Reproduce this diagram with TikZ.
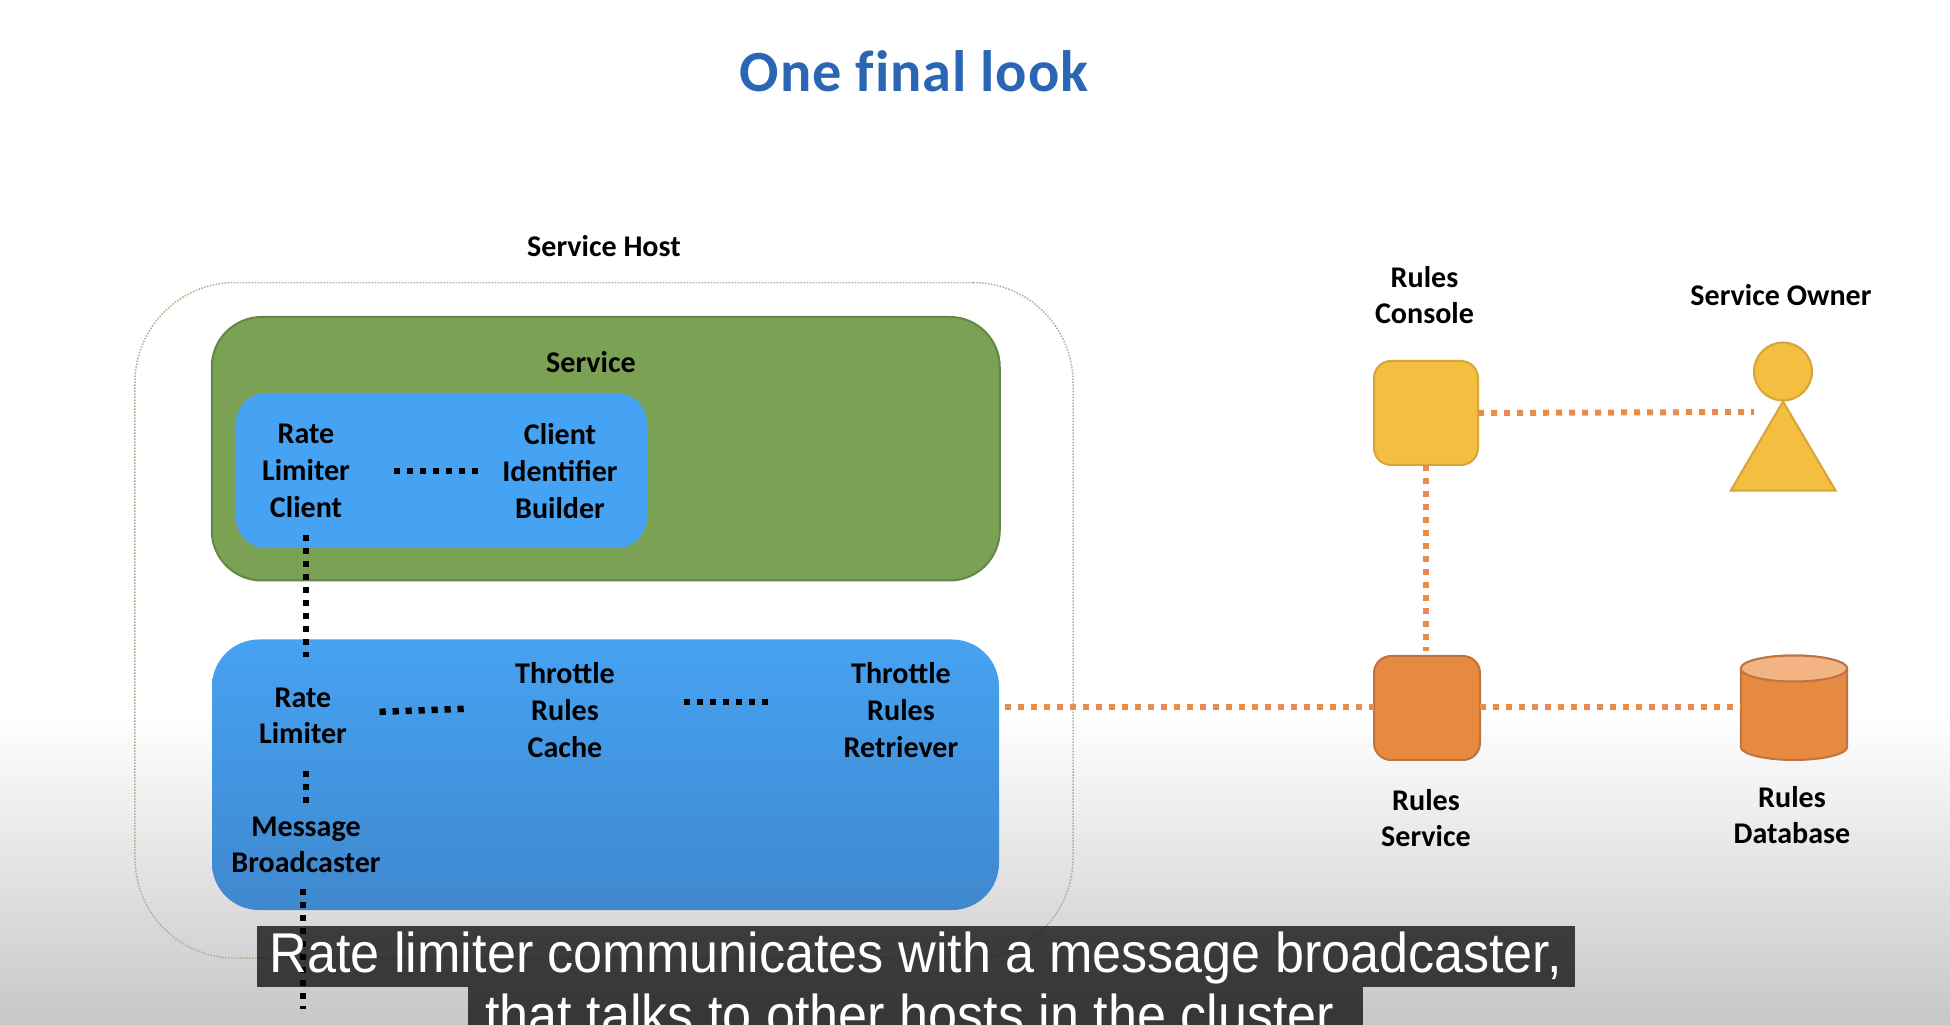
\documentclass[tikz,border=0pt]{standalone}
\usepackage{fontspec}
\setmainfont{Carlito}
\newfontfamily\captionFont[FakeStretch=0.93]{Liberation Sans}
\newfontfamily\titleFont[Ligatures=NoCommon,LetterSpace=1.5]{Carlito}

\definecolor{titleBlue}{RGB}{42,102,180}
\definecolor{hostLine}{RGB}{168,178,140}
\definecolor{serviceGreen}{RGB}{123,162,84}
\definecolor{serviceEdge}{RGB}{100,135,70}
\definecolor{boxBlue}{RGB}{70,162,242}
\definecolor{boxBlueMid}{RGB}{69,152,230}
\definecolor{boxBlueLow}{RGB}{63,136,206}
\definecolor{consoleYellow}{RGB}{244,190,65}
\definecolor{consoleEdge}{RGB}{214,165,55}
\definecolor{rulesOrange}{RGB}{230,138,66}
\definecolor{rulesEdge}{RGB}{190,115,65}
\definecolor{rulesTop}{RGB}{242,180,130}
\definecolor{linkOrange}{RGB}{229,141,76}

\tikzset{
	roundBox/.style={draw, rectangle, inner sep=0, outer sep=0},
	nameLabel/.style={inner sep=0, align=center, font=\fontsize{8.55}{10.44}\selectfont\bfseries},
	blackDots/.style={black, line width=0.65mm, dash pattern=on 0.62mm off 0.68mm},
	orangeDots/.style={linkOrange, line width=0.6mm, dash pattern=on 0.6mm off 0.7mm},
	captionBar/.style={fill=black, fill opacity=0.72, text opacity=1, text=white, inner sep=0, text height=0.44cm, text depth=0.11cm, font=\captionFont\fontsize{15.95}{18}\selectfont}
}

\begin{document}
\begin{tikzpicture}

	\useasboundingbox (0,0) rectangle (19.5,10.24);
	\clip (0,0) rectangle (19.5,10.24);

	\fill[white] (0,0) rectangle (19.5,10.24);
	\shade[top color=white, bottom color=black!22] (0,0) rectangle (19.5,3.1);

	\node[nameLabel, titleBlue, font=\titleFont\fontsize{16.6}{20}\selectfont\bfseries] (title) at (9.14,9.53) {One final look};

	% service host
	\node[nameLabel] (hostName) at (6.04,7.78) {Service Host};
	\node[roundBox, hostLine, line width=0.15mm, dash pattern=on 0.15mm off 0.15mm, rounded corners=1cm, minimum width=9.38cm, minimum height=6.755cm] (host) at (6.04,4.037) {};

	\node[roundBox, serviceEdge, fill=serviceGreen, line width=0.2mm, rounded corners=0.5cm, minimum width=7.88cm, minimum height=2.635cm] (service) at (6.0575,5.7525) {};
		\node[nameLabel] (serviceName) at (5.91,6.62) {Service};
	\node[roundBox, draw=none, fill=boxBlue, rounded corners=0.3cm, minimum width=4.11cm, minimum height=1.55cm] (clientBox) at (4.415,5.535) {};
		\node[nameLabel] (rateClient) at (3.06,5.53) {Rate\\Limiter\\Client};
		\node[nameLabel] (identifier) at (5.6,5.53) {Client\\Identifier\\Builder};

	\node[roundBox, draw=none, top color=boxBlue, middle color=boxBlueMid, bottom color=boxBlueLow, rounded corners=0.47cm, minimum width=7.87cm, minimum height=2.705cm] (limiterBox) at (6.055,2.4925) {};
		\node[nameLabel] (rateLimiter) at (3.03,3.08) {Rate\\Limiter};
		\node[nameLabel] (rulesCache) at (5.65,3.14) {Throttle\\Rules\\Cache};
		\node[nameLabel] (rulesRetriever) at (9.01,3.14) {Throttle\\Rules\\Retriever};
		\node[nameLabel] (broadcaster) at (3.06,1.79) {Message\\Broadcaster};

	% rules side
	\node[roundBox, consoleEdge, fill=consoleYellow, line width=0.2mm, rounded corners=0.17cm, minimum width=1.04cm, minimum height=1.04cm] (console) at (14.26,6.11) {};
		\node[nameLabel] (consoleName) at (14.245,7.29) {Rules\\Console};
	\node[roundBox, rulesEdge, fill=rulesOrange, line width=0.2mm, rounded corners=0.17cm, minimum width=1.06cm, minimum height=1.04cm] (rules) at (14.27,3.16) {};
		\node[nameLabel] (rulesName) at (14.26,2.06) {Rules\\Service};

	\node[draw, circle, consoleEdge, fill=consoleYellow, line width=0.2mm, inner sep=0, minimum size=0.58cm] (ownerHead) at (17.83,6.525) {};
	\draw[consoleEdge, fill=consoleYellow, line width=0.2mm] (ownerHead.south) -- (17.307,5.333) -- (18.357,5.333) -- cycle;
		\node[nameLabel] (ownerName) at (17.81,7.29) {Service Owner};
	\coordinate (ownerEnd) at (17.54,6.12);

	\node[inner sep=0, outer sep=0, minimum width=1.063cm, minimum height=1.045cm] (database) at (17.94,3.16) {};
	\draw[rulesEdge, fill=rulesOrange, line width=0.2mm] (17.408,3.555) -- (17.408,2.77) arc (180:360:0.532 and 0.13) -- (18.472,3.555) arc (0:180:0.532 and 0.13) -- cycle;
	\draw[rulesEdge, fill=rulesTop, line width=0.2mm] (17.94,3.555) ellipse (0.532 and 0.13);
		\node[nameLabel] (databaseName) at (17.92,2.09) {Rules\\Database};

	% links
	\draw[blackDots, shorten <=0.17cm, shorten >=0.3cm] (rateClient.south) -- (rateClient.south |- rateLimiter.north);
	\draw[blackDots, shorten <=0.43cm, shorten >=0.23cm] (rateClient.east) -- (identifier.west);
	\draw[blackDots, shorten <=0.32cm, shorten >=0.5cm] ([yshift=0.03cm]rateLimiter.east) -- ([yshift=0.03cm]rulesCache.west);
	\draw[blackDots, shorten <=0.68cm, shorten >=0.74cm] ([yshift=0.08cm]rulesCache.east) -- ([yshift=0.08cm]rulesRetriever.west);
	\draw[blackDots, shorten <=0.26cm, shorten >=0.12cm] (rateLimiter.south -| broadcaster.north) -- (broadcaster.north);
	\coordinate (clusterEnd) at (3.03,0.15);
	\draw[blackDots, shorten <=0.15cm] (broadcaster.south -| clusterEnd) -- (clusterEnd);

	\draw[orangeDots] (limiterBox.east) ++(0.06,0.68) coordinate (limiterOut) -- (limiterOut -| rules.west);
	\draw[orangeDots] (rules.east) ++(0,0.01) coordinate (rulesOut) -- (rulesOut -| database.west);
	\draw[orangeDots] (console.south) -- ([yshift=0.05cm]rules.north -| console.south);
	\draw[orangeDots] (console.east) -- (ownerEnd);

	% caption
	\node[captionBar, minimum width=13.18cm, minimum height=0.61cm] (captionTop) at (9.16,0.675) {Rate limiter communicates with a message broadcaster,};
	\node[captionBar, minimum width=8.95cm, minimum height=0.61cm] (captionLow) at (9.155,0.065) {that talks to other hosts in the cluster.};

\end{tikzpicture}
\end{document}
